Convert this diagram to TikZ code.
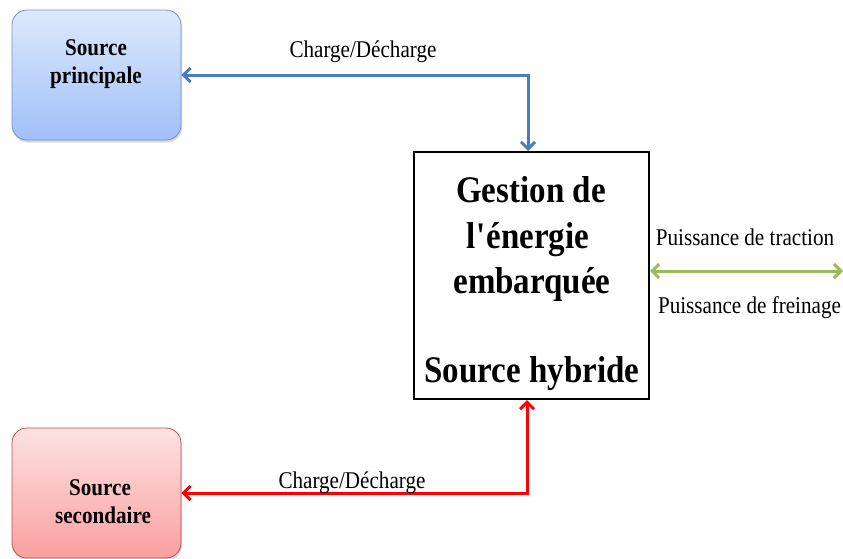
\documentclass[tikz,border=0pt]{standalone}
\usepackage{fontspec}
\setmainfont{Liberation Serif}[FakeStretch=0.88]
\usetikzlibrary{arrows.meta,shadows}
\definecolor{bluetop}{RGB}{222,233,252}
\definecolor{bluebot}{RGB}{160,192,248}
\definecolor{blueedge}{RGB}{110,146,206}
\definecolor{redtop}{RGB}{254,226,226}
\definecolor{redbot}{RGB}{249,160,160}
\definecolor{rededge}{RGB}{192,80,77}
\definecolor{bluearrow}{RGB}{74,126,187}
\definecolor{greenarrow}{RGB}{155,187,89}
\tikzset{
  srcbox/.style={draw, line width=0.8pt, rounded corners=15pt, minimum width=169pt, minimum height=130pt,
    drop shadow={opacity=0.3, shadow xshift=1pt, shadow yshift=-2.5pt}},
  srctext/.style={anchor=base, inner sep=0pt, font=\fontsize{24}{28}\selectfont\bfseries},
  maintext/.style={anchor=base, inner sep=0pt, font=\fontsize{37.5}{44}\selectfont\bfseries},
  lbl/.style={anchor=base, inner sep=0pt, font=\fontsize{24}{28}\selectfont},
  conn/.style={line width=3pt, {Straight Barb[length=7pt,width=14pt]}-{Straight Barb[length=7pt,width=14pt]}}
}
\begin{document}
\begin{tikzpicture}[x=1pt,y=-1pt]
\useasboundingbox (0,0) rectangle (843,558);
% boxes
\node[srcbox, draw=blueedge, top color=bluetop, bottom color=bluebot] (sp) at (96.5,75) {};
\node[srcbox, draw=rededge, top color=redtop, bottom color=redbot] (ss) at (96.5,493) {};
\node[draw, line width=2pt, minimum width=235pt, minimum height=247pt] (main) at (531.5,275.5) {};
% texts
\node[srctext] (sp1) at (96,55) {Source};
\node[srctext] (sp2) at (96,83) {principale};
\node[srctext] (ss1) at (100,495) {Source};
\node[srctext] (ss2) at (103,523) {secondaire};
\node[maintext] (m1) at (531,202) {Gestion de};
\node[maintext] (m2) at (528,248) {l\textquotesingle énergie};
\node[maintext] (m3) at (532,293) {embarquée};
\node[maintext] (m4) at (532,382) {Source hybride};
% connectors
\draw[conn, draw=bluearrow] ([xshift=-3.5pt]main.north) |- (sp.east);
\draw[conn, draw=red] ([xshift=-4.5pt]main.south) |- (ss.east);
\coordinate (tr) at (843,271);
\draw[conn, draw=greenarrow] (main.east |- tr) -- (tr);
% labels
\node[lbl] (c1) at (363,57) {Charge/Décharge};
\node[lbl] (c2) at (352,488) {Charge/Décharge};
\node[lbl] (p1) at (745,245) {Puissance de traction};
\node[lbl] (p2) at (749.5,313) {Puissance de freinage};
\end{tikzpicture}
\end{document}
